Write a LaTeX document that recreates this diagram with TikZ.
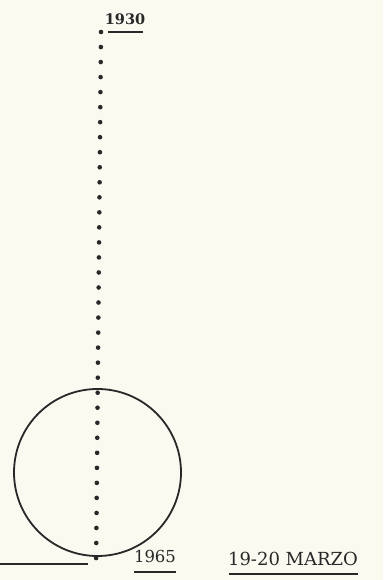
\documentclass[tikz,border=0pt]{standalone}
\usepackage{fontspec}
\setmainfont{DejaVu Serif}
\definecolor{paper}{RGB}{251,250,241}
\definecolor{ink}{RGB}{40,40,40}
\begin{document}
\begin{tikzpicture}[x=1pt,y=-1pt,
  inkline/.style={draw=ink, line width=1.8pt},
  uline/.style={draw=ink, line width=1.5pt},
  dotline/.style={draw=ink, line width=4.6pt, line cap=round, dash pattern=on 0pt off 15.03pt},
  label/.style={text=ink, inner sep=0pt, anchor=center}]
\fill[paper] (0,0) rectangle (383,580);
\useasboundingbox (0,0) rectangle (383,580);
% dotted vertical line
\coordinate (dtop) at (101,32);
\coordinate (dbot) at (96,573);
\draw[dotline] (dtop) -- (dbot);
% circle
\node[circle, inkline, minimum size=167pt, inner sep=0pt] (ring) at (97.5,472.5) {};
% horizontal line at bottom left
\coordinate (hl) at (0,564);
\coordinate (hr) at (88,564);
\draw[inkline, line width=1.5pt] (hl) -- (hr);
% labels
\node[label, font=\bfseries\fontsize{14.5}{14.5}\selectfont] (t1930) at (125,19) {1930};
\coordinate (u1a) at (108,32); \coordinate (u1b) at (143,32);
\draw[uline] (u1a) -- (u1b);
\node[label, font=\fontsize{16.5}{16.5}\selectfont] (t1965) at (155,556) {1965};
\coordinate (u2a) at (134,572); \coordinate (u2b) at (176,572);
\draw[uline] (u2a) -- (u2b);
\node[label, font=\fontsize{18}{18}\selectfont] (tmarzo) at (293,559) {19-20 MARZO};
\coordinate (u3a) at (229,574); \coordinate (u3b) at (358,574);
\draw[uline] (u3a) -- (u3b);
\end{tikzpicture}
\end{document}
